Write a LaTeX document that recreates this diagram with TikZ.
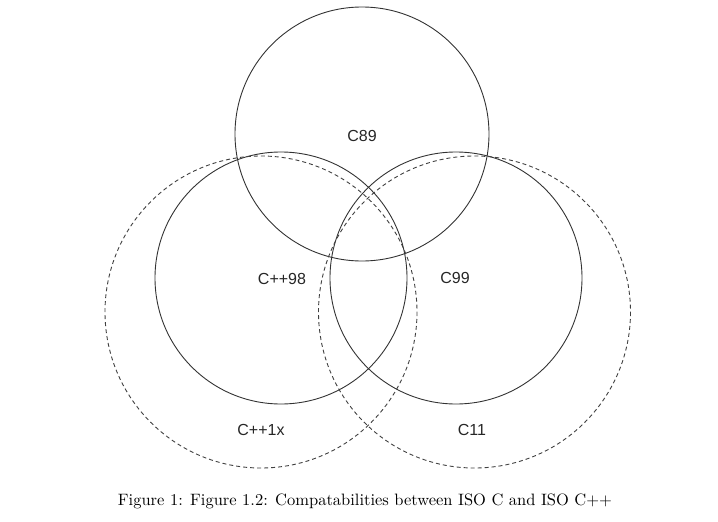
\documentclass[tikz,border=0pt]{standalone}
\usepackage{fontspec}
\setmainfont{Latin Modern Roman}
\newfontfamily\labelfont{Liberation Sans}
\begin{document}
\begin{tikzpicture}[x=1pt,y=-1pt,
  solidring/.style={draw=black!80, line width=0.9pt},
  dashring/.style={draw=black!75, line width=0.9pt, dash pattern=on 4pt off 3pt},
  setlabel/.style={font=\labelfont\fontsize{16}{18}\selectfont, text=black!85, inner sep=0pt}]
\useasboundingbox (0,0) rectangle (718,522);
% centres
\coordinate (c89) at (362,134);
\coordinate (cpp98) at (281,278);
\coordinate (c99) at (456,278);
\coordinate (cpp1x) at (261,312);
\coordinate (c11) at (474.5,312);
% rings
\draw[solidring] (c89) circle[radius=127];
\draw[solidring] (cpp98) circle[radius=126];
\draw[solidring] (c99) circle[radius=126];
\draw[dashring] (cpp1x) circle[radius=156];
\draw[dashring] (c11) circle[radius=156];
% labels
\node[setlabel] (l89) at (362,136) {C89};
\node[setlabel] (l98) at (282,279) {C++98};
\node[setlabel] (l99) at (455,278) {C99};
\node[setlabel] (l1x) at (261,430) {C++1x};
\node[setlabel] (l11) at (472,430) {C11};
% caption
\node[inner sep=0pt] (cap) at (365,501) {\resizebox{494pt}{!}{Figure 1: Figure 1.2: Compatabilities between ISO C and ISO C++}};
\end{tikzpicture}
\end{document}
